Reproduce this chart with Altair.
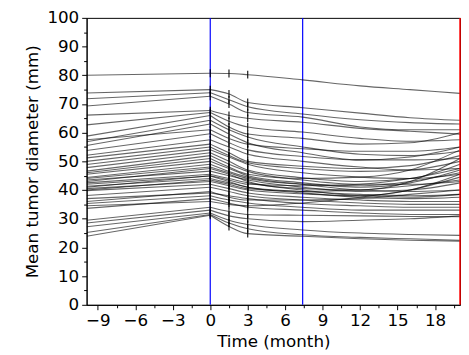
import altair as alt
import pandas as pd

# ---- data ----
t_start = -9.9
post_times = [0, 1.5, 3, 7.4, 12, 16, 20]
visit_times = [0, 1.5, 3]
blue_lines = [0, 7.4]
red_lines = [20]

start_vals = [80.0, 73.8, 71.8, 69.3, 66.1, 62.7, 58.8, 56.8, 55.5, 53.8, 52.1, 51.2, 48.9, 47.8,
              46.6, 45.5, 44.4, 43.5, 42.5, 42.0, 41.3, 40.5, 39.8, 38.1, 37.0, 35.3, 33.6, 29.5,
              28.5, 27.2, 25.2, 23.9, 43.0, 41.0, 40.0, 36.0, 34.5, 46.0, 50.0, 57.5, 44.0]
at_0 = [80.7, 75.0, 73.9, 72.7, 67.7, 67.0, 66.0, 64.3, 63.0, 59.6, 57.5, 56.0, 54.0, 53.0,
        52.0, 50.0, 49.0, 46.6, 45.5, 44.9, 44.0, 43.0, 42.0, 41.0, 39.0, 38.0, 37.0, 34.0,
        33.0, 32.0, 31.5, 31.2, 47.5, 45.0, 43.5, 39.5, 36.0, 51.0, 55.0, 61.0, 48.0]
at_1_5 = [80.6, 73.5, 71.5, 70.0, 66.0, 64.0, 62.0, 61.0, 59.5, 56.5, 55.0, 53.0, 51.5, 50.0,
          49.0, 47.5, 46.5, 45.0, 44.0, 43.0, 42.5, 41.5, 40.5, 39.5, 38.0, 36.5, 35.5, 32.5,
          31.0, 29.5, 28.5, 27.3, 45.5, 43.5, 42.0, 37.5, 35.0, 48.0, 52.0, 58.0, 46.0]
at_3 = [80.2, 70.5, 69.0, 67.0, 65.0, 62.0, 59.5, 58.5, 56.5, 54.0, 52.5, 50.0, 49.0, 47.0,
        46.5, 45.0, 44.5, 43.5, 42.5, 41.0, 41.0, 40.0, 39.0, 38.0, 37.0, 35.5, 34.0, 31.5,
        30.0, 28.0, 26.5, 24.8, 43.0, 42.0, 40.5, 36.5, 34.5, 45.5, 49.5, 56.0, 44.0]
at_7_4 = [78.4, 68.7, 66.5, 65.4, 63.6, 60.2, 58.0, 55.0, 53.0, 51.7, 50.0, 48.3, 46.0, 44.3,
          43.5, 42.5, 42.0, 41.0, 40.5, 39.5, 39.0, 38.7, 37.5, 36.5, 35.3, 34.0, 33.0, 31.2,
          29.0, 26.1, 24.4, 23.9, 40.0, 41.5, 39.5, 36.5, 35.5, 44.0, 47.5, 54.4, 42.0]
at_12 = [76.3, 66.8, 64.5, 62.0, 61.5, 58.0, 56.0, 52.5, 50.5, 50.5, 48.0, 47.5, 44.5, 43.0,
         42.0, 41.0, 40.0, 39.5, 40.0, 38.5, 37.5, 38.0, 36.5, 35.5, 34.5, 33.0, 32.0, 31.0,
         29.5, 25.0, 23.5, 23.0, 38.0, 42.0, 40.0, 37.0, 37.5, 44.5, 46.5, 53.5, 41.5]
at_16 = [75.0, 65.2, 63.5, 61.0, 60.5, 57.0, 56.5, 52.0, 50.5, 51.5, 47.0, 48.5, 44.0, 44.0,
         42.0, 42.5, 39.5, 40.0, 43.0, 38.0, 37.0, 40.0, 36.0, 35.0, 34.0, 33.0, 31.5, 30.8,
         30.0, 24.5, 23.0, 22.5, 37.5, 44.0, 41.5, 38.5, 40.0, 47.0, 47.0, 53.5, 43.0]
at_20 = [73.7, 64.3, 63.0, 61.0, 59.5, 57.5, 60.0, 53.5, 51.0, 55.0, 47.5, 52.0, 45.5, 49.0,
         43.0, 47.0, 40.0, 42.5, 51.0, 38.5, 37.5, 45.5, 36.0, 35.0, 34.0, 33.0, 31.5, 30.7,
         31.0, 24.2, 22.5, 22.2, 38.5, 47.5, 43.5, 40.0, 44.5, 54.0, 50.0, 55.0, 46.0]

# ---- tables ----
pre_rows, post_rows, tick_rows = [], [], []
post_cols = [at_0, at_1_5, at_3, at_7_4, at_12, at_16, at_20]
for i in range(len(start_vals)):
    pre_rows.append({"id": i, "t": t_start, "v": start_vals[i]})
    pre_rows.append({"id": i, "t": 0, "v": at_0[i]})
    for t, col in zip(post_times, post_cols):
        post_rows.append({"id": i, "t": t, "v": col[i]})
    for t, col in zip(visit_times, [at_0, at_1_5, at_3]):
        tick_rows.append({"id": i, "t": t, "v": col[i]})

pre_df = pd.DataFrame(pre_rows)
post_df = pd.DataFrame(post_rows)
tick_df = pd.DataFrame(tick_rows)
blue_df = pd.DataFrame({"t": blue_lines})
red_df = pd.DataFrame({"t": red_lines})

x_vals = [-9 + 1.5 * k for k in range(20)]
y_vals = [5 * k for k in range(21)]

x_scale = alt.Scale(domain=[-9.9, 20], nice=False, zero=False)
y_scale = alt.Scale(domain=[0, 100], nice=False, zero=False)

x_axis = alt.Axis(values=x_vals, format="d", grid=False, labelOverlap=False,
                  labelExpr="datum.value % 3 === 0 ? datum.label : ''",
                  tickSize={"condition": {"test": "datum.value % 3 !== 0", "value": 3}, "value": 5},
                  labelPadding=3, titlePadding=5, title="Time (month)")
y_axis = alt.Axis(values=y_vals, format="d", grid=False, labelOverlap=False,
                  labelExpr="datum.value % 10 === 0 ? datum.label : ''",
                  tickSize={"condition": {"test": "datum.value % 10 !== 0", "value": 3}, "value": 5},
                  labelPadding=3, titlePadding=6, title="Mean tumor diameter (mm)")

X = alt.X("t:Q", scale=x_scale, axis=x_axis)
Y = alt.Y("v:Q", scale=y_scale, axis=y_axis)

pre = alt.Chart(pre_df).mark_line(color="black", strokeWidth=1.1, opacity=0.6, clip=True).encode(
    x=X, y=Y, detail="id:N")
blue = alt.Chart(blue_df).mark_rule(color="#0000ff", strokeWidth=1.2).encode(x=X)
red = alt.Chart(red_df).mark_rule(color="#ff0000", strokeWidth=1.5).encode(x=X)
post = alt.Chart(post_df).mark_line(color="black", strokeWidth=1.1, opacity=0.6,
                                    interpolate="monotone", clip=True).encode(
    x=X, y=Y, detail="id:N")
ticks = alt.Chart(tick_df).mark_tick(color="black", orient="vertical", size=8, thickness=1.2,
                                     opacity=0.9).encode(x=X, y=Y)

chart = alt.layer(pre, blue, post, ticks, red).properties(
    width=380, height=292,
    autosize=alt.AutoSizeParams(type="none"),
    padding={"left": 80, "top": 7, "right": 1, "bottom": 47},
).configure_view(stroke="black", strokeWidth=1).configure_axis(
    labelFont="DejaVu Sans", titleFont="DejaVu Sans", labelFontSize=17, titleFontSize=17,
    labelColor="black", titleColor="black", titleFontWeight="normal",
    domainColor="black", tickColor="black", domainWidth=1, tickWidth=1,
    labelOverlap=False,
)

chart.save("out.html", embed_options={"renderer": "svg", "actions": False})
